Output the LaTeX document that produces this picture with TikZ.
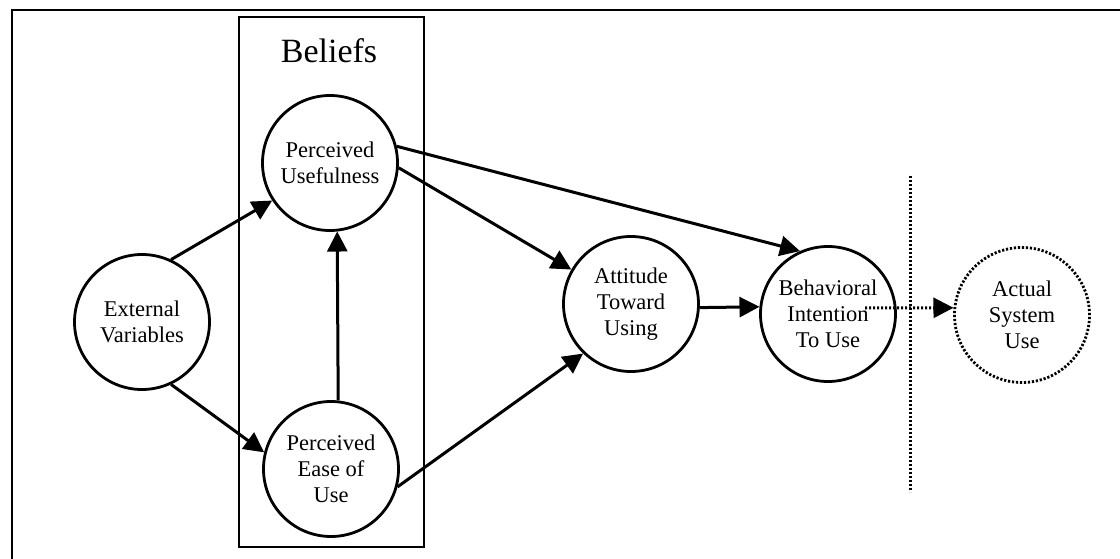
\documentclass[tikz,border=0pt]{standalone}
\usepackage{fontspec}
\setmainfont{Liberation Serif}
\usetikzlibrary{arrows.meta}
\begin{document}
\begin{tikzpicture}[x=1pt,y=-1pt,
  construct/.style={circle, draw, line width=2.8pt, minimum size=135pt,
    inner sep=0pt, align=center, font=\fontsize{22.5}{26}\selectfont},
  dotline/.style={line width=3pt, dash pattern=on 2.2pt off 1.8pt},
  outcome/.style={construct, dotline, line width=2.8pt},
  link/.style={line width=3pt, -{Triangle[length=20pt,width=20pt]}},
  frameline/.style={line width=2.6pt}
]
\useasboundingbox (0,0) rectangle (1120,559);

% page frame
\draw[frameline] (1120,10) -| (12,559);

% beliefs group
\draw[frameline] (239,17) rectangle (424,547);
\node[anchor=base, font=\fontsize{34}{38}\selectfont] (beliefs) at (329,63) {Beliefs};

% constructs
\node[construct] (ext) at (142,322) {External\\Variables};
\node[construct] (pu)  at (330,163) {Perceived\\Usefulness};
\node[construct] (peu) at (331,469) {Perceived\\Ease of\\Use};
\node[construct] (atu) at (631,304) {Attitude\\Toward\\Using};
\node[construct] (bi)  at (828,314) {Behavioral\\Intention\\To Use};
\node[outcome]   (asu) at (1022,315) {Actual\\System\\Use};

% relations
\draw[link] (ext.65)  -- (pu.213);
\draw[link] (ext.-65) -- (peu.166);
\draw[link] (peu.84)  -- (pu.-84);
\draw[link] (pu.-4)   -- (atu.150);
\draw[link] (pu.14)   -- (bi.114);
\draw[link] (peu.-15) -- (atu.226);
\draw[link] (atu.-3)  -- (bi.174);

% actual use
\coordinate (bistart) at (865,308);
\draw[link, dotline] (bistart) -- (asu.174);

% divider
\coordinate (divtop) at (910,176);
\coordinate (divbot) at (910,492);
\draw[dotline] (divtop) -- (divbot);
\end{tikzpicture}
\end{document}
